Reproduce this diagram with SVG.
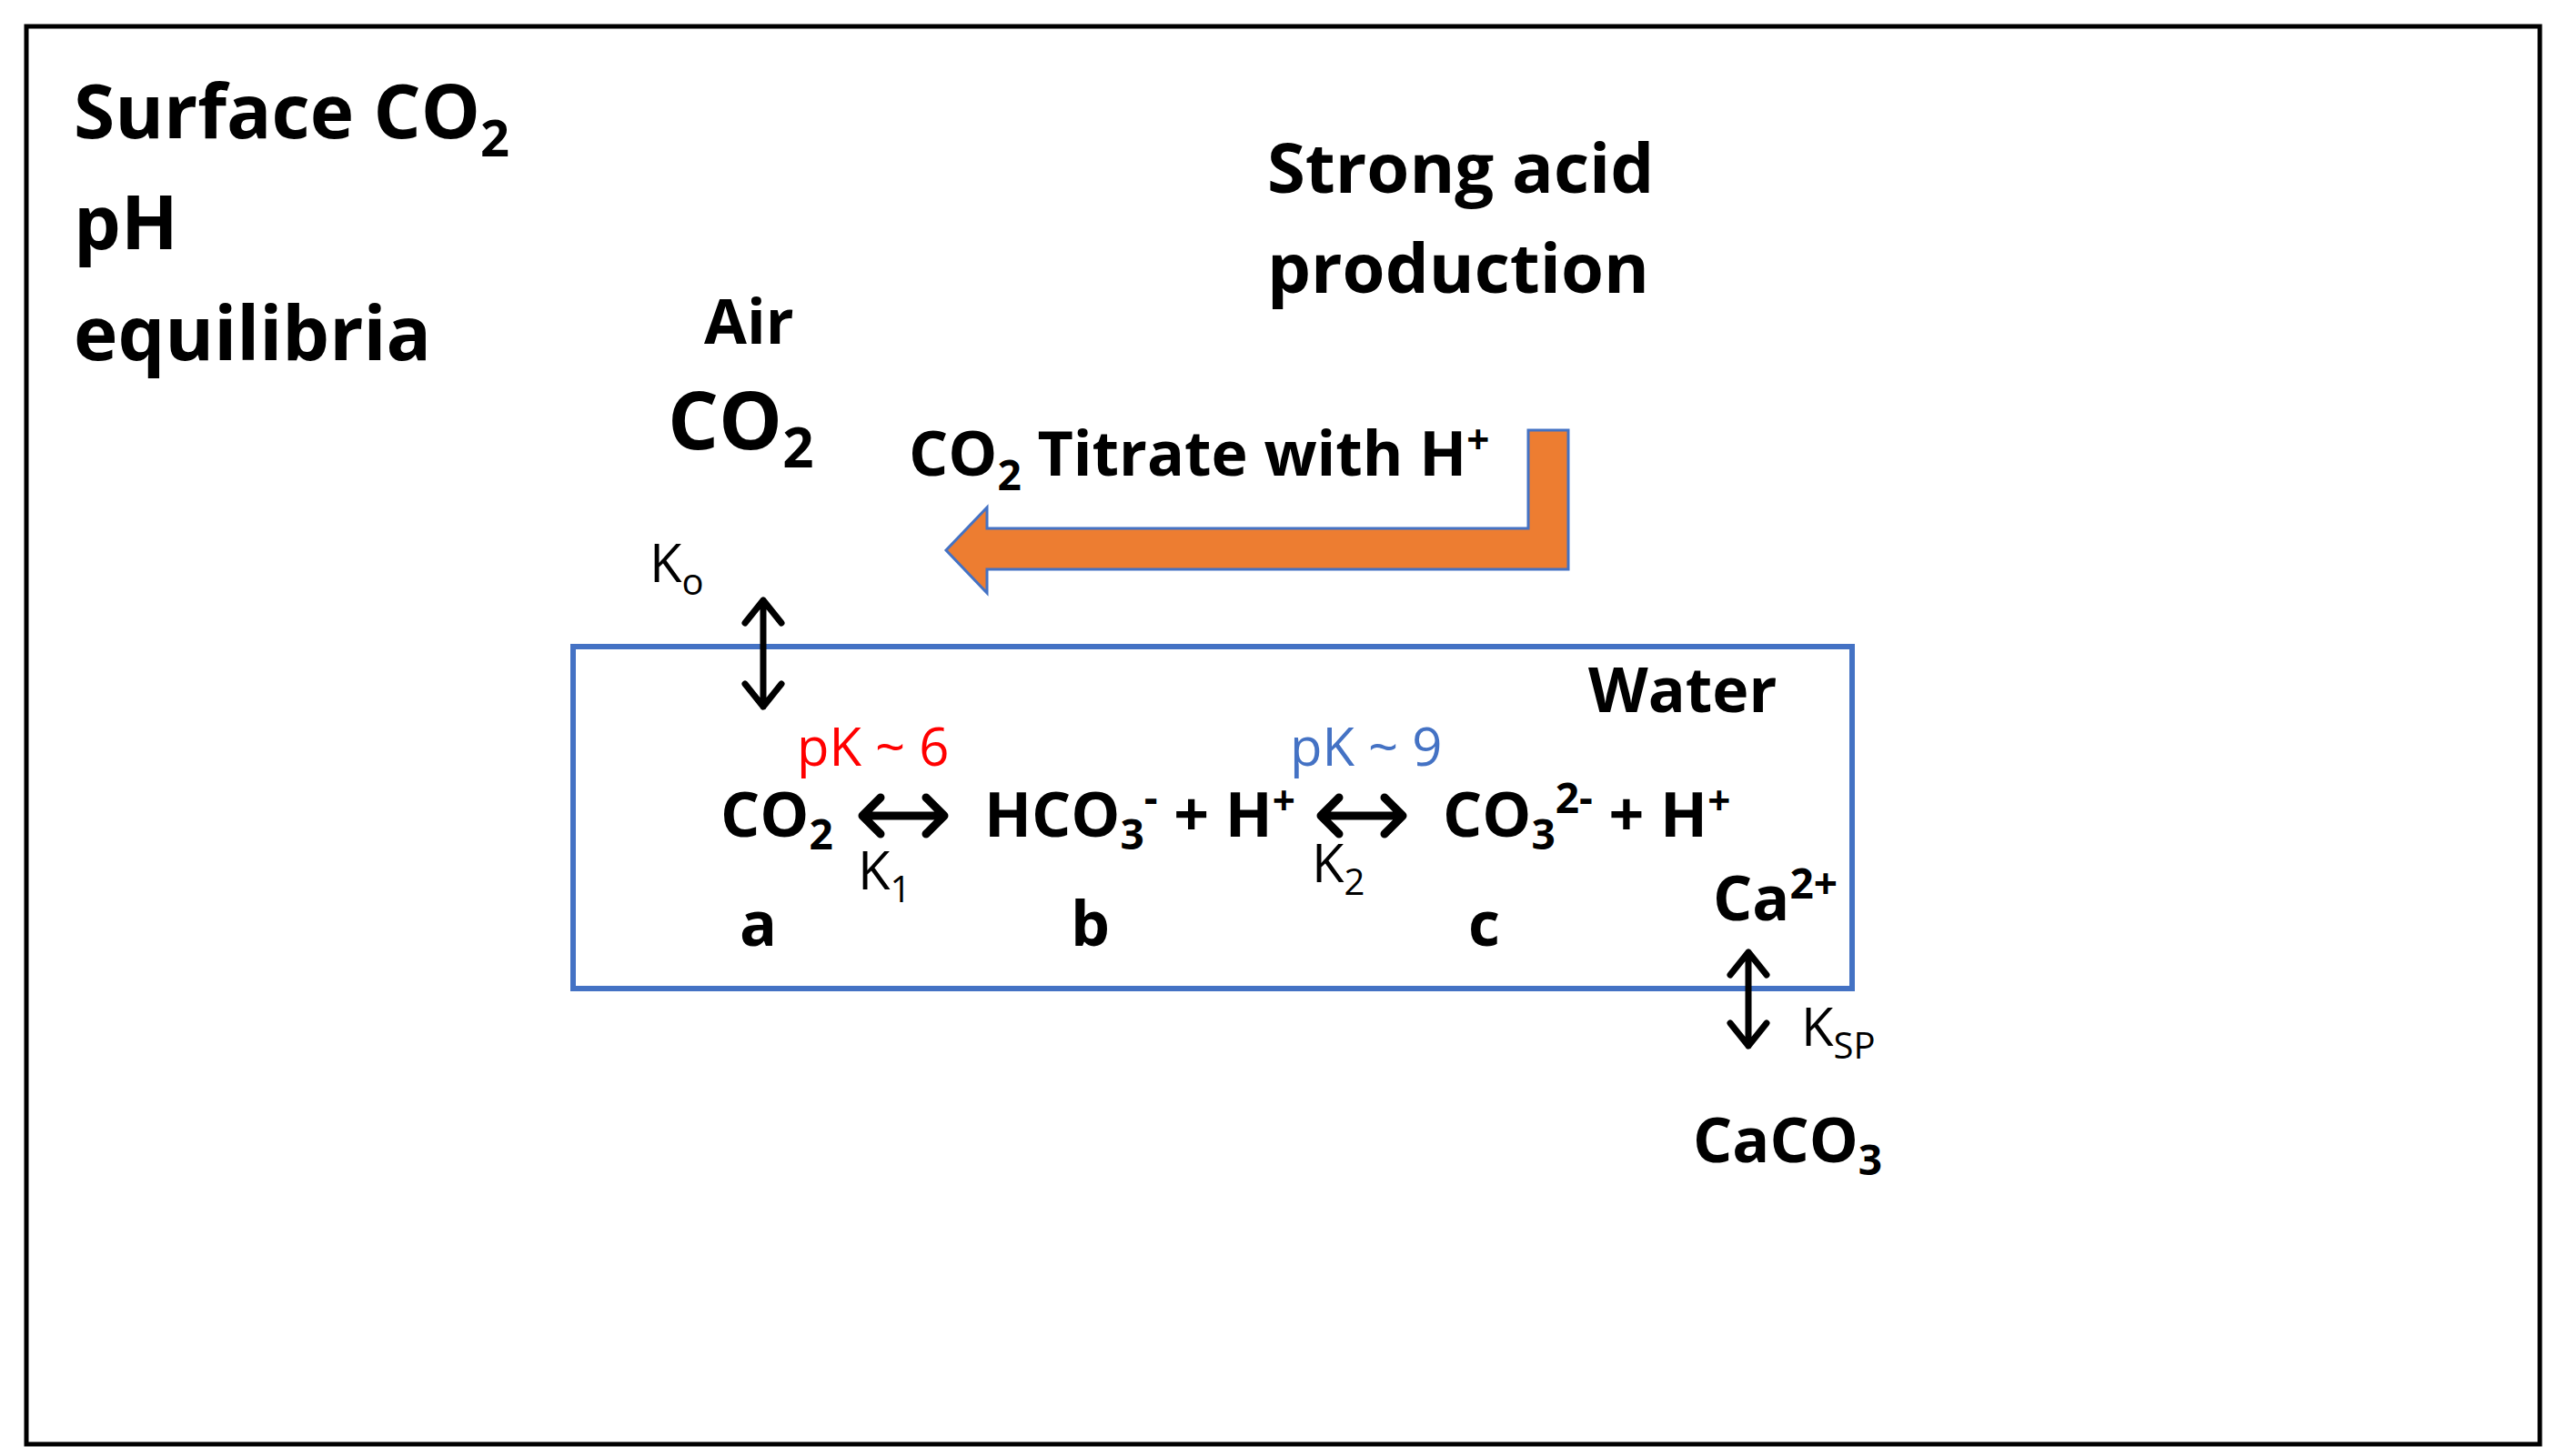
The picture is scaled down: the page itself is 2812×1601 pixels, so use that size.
<svg xmlns="http://www.w3.org/2000/svg" width="2812" height="1601" viewBox="0 0 2812 1601">
<style>
text{font-family:"Open Sans","Noto Sans",sans-serif;fill:#000}
.b{font-weight:700}
.lg{font-size:76px}
.md{font-size:68px}
.sm{font-size:58px}
.arr{stroke:#000;stroke-width:7;fill:none;stroke-linecap:round;stroke-linejoin:round}
.arr2{stroke:#000;stroke-width:9;fill:none;stroke-linecap:round;stroke-linejoin:round}
</style>
<rect x="0" y="0" width="2812" height="1601" fill="#fff"/>
<rect x="29" y="29" width="2763" height="1559" fill="none" stroke="#000" stroke-width="5"/>
<g id="title"><text class="b" font-size="82" x="81" y="152">Surface CO<tspan font-size="56" dy="20">2</tspan></text>
<text class="b" font-size="82" x="81" y="274">pH</text>
<text class="b" font-size="82" x="81" y="396">equilibria</text></g>
<g id="acid"><text class="b lg" x="1393" y="212">Strong acid</text>
<text class="b lg" x="1393" y="322">production</text></g>
<g id="air"><text class="b md" x="774" y="378">Air</text>
<text class="b" font-size="88" x="734" y="494">CO<tspan font-size="60" dy="20">2</tspan></text></g>
<g id="titrate"><path d="M1680,473 H1724 V626 H1085 V652 L1040,605 L1085,558 V581 H1680 Z" fill="#ED7D31" stroke="#4472C4" stroke-width="3"/>
<text class="b md" x="999" y="523">CO<tspan font-size="46" dy="16">2</tspan><tspan dy="-16"> Titrate with H</tspan><tspan font-size="44" dy="-24">+</tspan></text></g>
<g id="water"><rect x="630" y="711" width="1406" height="376" fill="none" stroke="#4472C4" stroke-width="6"/>
<text class="b md" x="1746" y="783">Water</text></g>
<g id="connectors">
<path class="arr" d="M839,660 V777 M819,685 L839,660 L859,685 M819,752 L839,777 L859,752"/>
<path class="arr2" d="M948,897 H1038 M968,877 L948,897 L968,917 M1018,877 L1038,897 L1018,917"/>
<path class="arr2" d="M1452,897 H1542 M1472,877 L1452,897 L1472,917 M1522,877 L1542,897 L1522,917"/>
<path class="arr" d="M1922,1047 V1150 M1902,1072 L1922,1047 L1942,1072 M1902,1125 L1922,1150 L1942,1125"/>
</g>
<g id="ko"><text class="sm" x="714" y="640">K<tspan font-size="40" dy="14">o</tspan></text></g>
<g id="pk"><text class="sm" x="876" y="842" style="fill:#FF0000">pK ~ 6</text>
<text class="sm" x="1418" y="842" style="fill:#4472C4">pK ~ 9</text></g>
<g id="eq"><text class="b md" x="792" y="920">CO<tspan font-size="46" dy="14">2</tspan></text>
<text class="b md" x="1082" y="920">HCO<tspan font-size="46" dy="14">3</tspan><tspan font-size="46" dy="-40">-</tspan><tspan dy="26"> + H</tspan><tspan font-size="44" dy="-24">+</tspan></text>
<text class="b md" x="1586" y="920">CO<tspan font-size="46" dy="14">3</tspan><tspan font-size="46" dy="-40">2-</tspan><tspan dy="26"> + H</tspan><tspan font-size="44" dy="-24">+</tspan></text>
<text class="sm" x="943" y="978">K<tspan font-size="40" dy="14">1</tspan></text>
<text class="sm" x="1442" y="970">K<tspan font-size="40" dy="14">2</tspan></text></g>
<g id="labels"><text class="b md" x="813" y="1040">a</text>
<text class="b md" x="1177" y="1040">b</text>
<text class="b md" x="1614" y="1040">c</text></g>
<g id="ca"><text class="b md" x="1883" y="1012">Ca<tspan font-size="46" dy="-24">2+</tspan></text>
<text class="sm" x="1980" y="1150">K<tspan font-size="40" dy="14">SP</tspan></text>
<text class="b md" x="1861" y="1278">CaCO<tspan font-size="46" dy="14">3</tspan></text></g>
</svg>
